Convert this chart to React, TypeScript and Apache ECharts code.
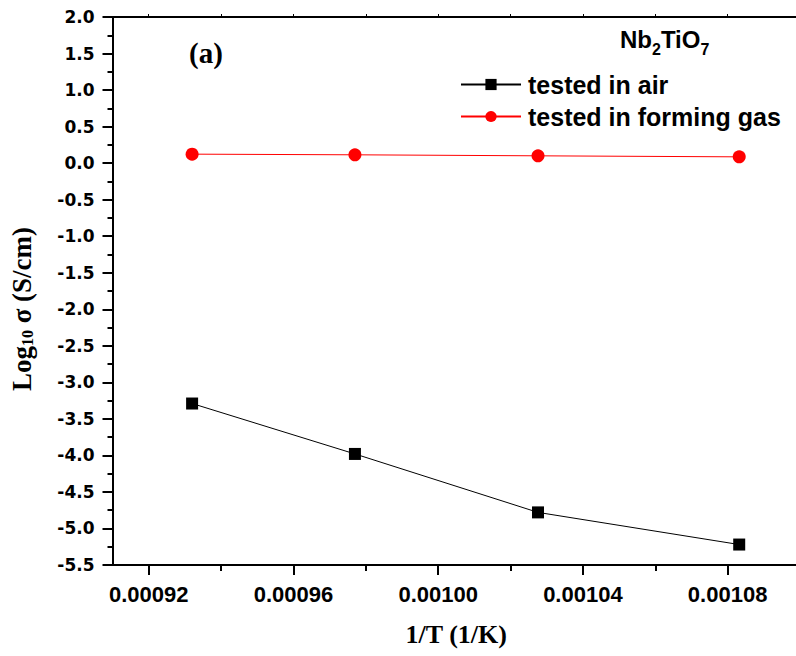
import React, { useEffect, useRef } from "react";
import * as echarts from "echarts";

const xValues = [0.000932, 0.000977, 0.0010276, 0.0010832];
const airValues = [-3.29, -3.98, -4.78, -5.22];
const gasValues = [0.123, 0.114, 0.1, 0.086];
const xMajorTicks = [0.00092, 0.00096, 0.001, 0.00104, 0.00108];
const xMinorTicks = [0.00094, 0.00098, 0.00102, 0.00106];
const seriesNames = ["tested in air", "tested in forming gas"];

export default function App() {
  const ref = useRef<HTMLDivElement>(null);
  useEffect(() => {
    const chart = echarts.init(ref.current!, null, { renderer: "svg" });
    const axisLineStyle = { color: "#000", width: 2 };
    const xCommon = {
      type: "value",
      min: 0.00091,
      max: 0.0011,
      splitLine: { show: false },
    };
    chart.setOption({
      animation: false,
      backgroundColor: "#fff",
      grid: { left: 110, top: 17, width: 690, height: 548 },
      legend: {
        orient: "vertical",
        left: 455,
        top: 67,
        itemWidth: 60,
        itemHeight: 14,
        itemGap: 7,
        textStyle: {
          fontFamily: "Liberation Sans, Arial",
          fontWeight: "bold",
          fontSize: 25,
          lineHeight: 25,
          color: "#000",
          padding: [0, 0, 0, 2],
        },
        data: seriesNames,
      },
      xAxis: [
        {
          ...xCommon,
          position: "bottom",
          name: "1/T (1/K)",
          nameLocation: "middle",
          nameGap: 56,
          nameTextStyle: {
            fontFamily: "Liberation Serif, Times New Roman",
            fontWeight: "bold",
            fontSize: 26,
            color: "#000",
          },
          axisLine: { show: true, onZero: false, lineStyle: axisLineStyle },
          axisTick: {
            show: true,
            length: 10,
            lineStyle: { color: "#000", width: 2 },
            customValues: xMajorTicks,
          },
          axisLabel: {
            show: true,
            customValues: xMajorTicks,
            margin: 18,
            fontFamily: "Liberation Sans, Arial",
            fontWeight: "bold",
            fontSize: 22,
            color: "#000",
            formatter: (v: number) => v.toFixed(5),
          },
        },
        {
          ...xCommon,
          position: "bottom",
          axisLine: { show: false, onZero: false },
          axisTick: {
            show: true,
            length: 6,
            lineStyle: { color: "#000", width: 2 },
            customValues: xMinorTicks,
          },
          axisLabel: { show: false },
        },
        {
          ...xCommon,
          position: "top",
          axisLine: { show: true, onZero: false, lineStyle: axisLineStyle },
          axisTick: {
            show: true,
            length: 3,
            lineStyle: { color: "#000", width: 1 },
            customValues: xMajorTicks.concat(xMinorTicks),
          },
          axisLabel: { show: false },
        },
      ],
      yAxis: {
        type: "value",
        min: -5.5,
        max: 2.0,
        interval: 0.5,
        splitLine: { show: false },
        name: "{m|Log}{s|10}{m| σ (S/cm)}",
        nameLocation: "middle",
        nameGap: 77,
        nameTextStyle: {
          padding: [0, 36, 0, 0],
          rich: {
            m: {
              fontFamily: "Liberation Serif, Times New Roman",
              fontWeight: "bold",
              fontSize: 27,
              color: "#000",
            },
            s: {
              fontFamily: "Liberation Serif, Times New Roman",
              fontWeight: "bold",
              fontSize: 16,
              color: "#000",
              padding: [12, 0, 0, 0],
            },
          },
        },
        axisLine: { show: true, onZero: false, lineStyle: axisLineStyle },
        axisTick: { show: true, length: 10, lineStyle: { color: "#000", width: 2 } },
        minorTick: { show: true, splitNumber: 2, length: 5, lineStyle: { color: "#000", width: 2 } },
        axisLabel: {
          margin: 18,
          fontFamily: "DejaVu Sans",
          fontWeight: "bold",
          fontSize: 17,
          color: "#000",
          formatter: (v: number) => v.toFixed(1),
        },
      },
      graphic: [
        {
          type: "text",
          left: 189,
          top: 38,
          style: {
            text: "(a)",
            font: "bold 29px 'Liberation Serif', 'Times New Roman'",
            fill: "#000",
          },
        },
        {
          type: "text",
          left: 620,
          top: 27,
          style: {
            text: "{m|Nb}{s|2}{m|TiO}{s|7}",
            rich: {
              m: {
                fontFamily: "Liberation Sans, Arial",
                fontWeight: "bold",
                fontSize: 24,
                fill: "#000",
              },
              s: {
                fontFamily: "Liberation Sans, Arial",
                fontWeight: "bold",
                fontSize: 16,
                fill: "#000",
                padding: [20, 0, 0, 0],
              },
            },
          },
        },
      ],
      series: [
        {
          name: seriesNames[0],
          type: "line",
          xAxisIndex: 0,
          data: xValues.map((x, i) => [x, airValues[i]]),
          symbol: "rect",
          symbolSize: 12,
          itemStyle: { color: "#000" },
          lineStyle: { color: "#000", width: 1 },
        },
        {
          name: seriesNames[1],
          type: "line",
          xAxisIndex: 0,
          data: xValues.map((x, i) => [x, gasValues[i]]),
          symbol: "circle",
          symbolSize: 13,
          itemStyle: { color: "#ff0000" },
          lineStyle: { color: "#ff0000", width: 1 },
        },
      ],
    });
    return () => chart.dispose();
  }, []);
  return (
    <div
      ref={ref}
      style={{ position: "fixed", left: 0, top: 0, width: 810, height: 656 }}
    />
  );
}
